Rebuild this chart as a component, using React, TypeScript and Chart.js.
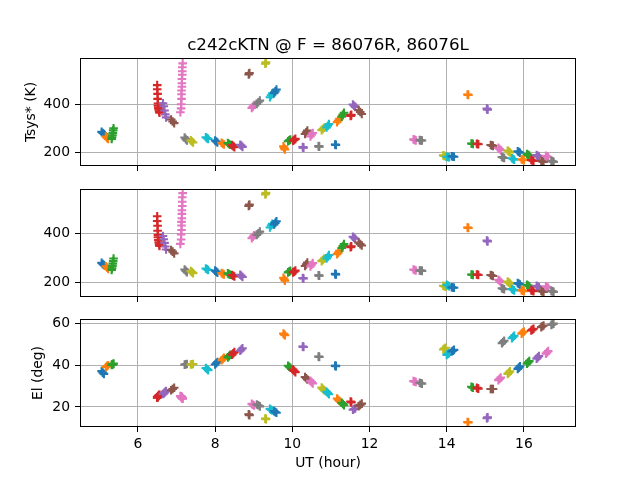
import { useEffect, useRef } from 'react';
import { Chart, registerables, ChartConfiguration, Plugin } from 'chart.js';

Chart.register(...registerables);
Chart.defaults.font.family = "'DejaVu Sans', sans-serif";
Chart.defaults.color = '#000';

const titleText = 'c242cKTN @ F = 86076R, 86076L';
const palette = ['#1f77b4', '#ff7f0e', '#2ca02c', '#d62728', '#9467bd', '#8c564b', '#e377c2', '#7f7f7f', '#bcbd22', '#17becf'];
const utTicks = [6, 8, 10, 12, 14, 16];
const tsysTicks = [200, 400];
const elTicks = [20, 40, 60];

// one row per scan, in UT order
const scanTimes: number[][] = [
  [5.06, 5.09, 5.12], [5.17, 5.2, 5.23], [5.32, 5.33, 5.34, 5.35, 5.36, 5.37],
  [6.5, 6.5, 6.51, 6.51, 6.52, 6.52, 6.53, 6.54, 6.55, 6.56],
  [6.65, 6.67, 6.69, 6.71, 6.73], [6.86, 6.9, 6.94],
  [7.1, 7.12, 7.12, 7.13, 7.13, 7.13, 7.14, 7.14, 7.14, 7.15, 7.15, 7.15, 7.16],
  [7.21, 7.24, 7.27], [7.37, 7.4, 7.43], [7.76, 7.79, 7.82], [8.0, 8.03, 8.06],
  [8.17, 8.2, 8.23], [8.33, 8.36, 8.39], [8.44, 8.47, 8.5], [8.65, 8.68, 8.71],
  [8.87, 8.88, 8.89], [8.95, 8.98, 9.01], [9.08, 9.12, 9.16], [9.3, 9.31, 9.32],
  [9.42, 9.45, 9.48], [9.53, 9.56, 9.59], [9.77, 9.79, 9.81], [9.89, 9.92, 9.95],
  [10.02, 10.05, 10.08], [10.27, 10.28, 10.29], [10.33, 10.36, 10.39], [10.47, 10.5, 10.53],
  [10.68, 10.69, 10.7], [10.76, 10.79, 10.82], [10.89, 10.92, 10.95], [11.11, 11.12, 11.13],
  [11.16, 11.19, 11.22], [11.28, 11.31, 11.34], [11.51, 11.52, 11.53], [11.57, 11.6, 11.63],
  [11.72, 11.76, 11.8], [13.14, 13.17, 13.2], [13.3, 13.33, 13.36], [13.91, 13.94, 13.97],
  [14.0, 14.03, 14.06], [14.13, 14.16, 14.19], [14.54, 14.55, 14.56], [14.64, 14.66, 14.68],
  [14.78, 14.8, 14.82], [15.04, 15.05, 15.06], [15.14, 15.17, 15.2], [15.34, 15.37, 15.4],
  [15.43, 15.46, 15.49], [15.58, 15.61, 15.64], [15.69, 15.72, 15.75], [15.84, 15.87, 15.9],
  [15.94, 15.97, 16.0], [16.08, 16.11, 16.14], [16.19, 16.22, 16.25], [16.33, 16.36, 16.39],
  [16.45, 16.48, 16.51], [16.57, 16.6, 16.63], [16.71, 16.74, 16.77],
];

const tsysR: number[][] = [
  [285, 280, 276], [266, 260, 256], [256, 263, 271, 280, 291, 300],
  [478, 461, 442, 421, 402, 393, 384, 376, 369, 364],
  [403, 391, 373, 357, 345], [336, 328, 321],
  [366, 382, 399, 421, 440, 456, 471, 486, 503, 521, 535, 552, 568],
  [262, 255, 250], [250, 245, 241], [263, 259, 256], [249, 245, 241],
  [240, 236, 233], [239, 235, 232], [230, 226, 222], [232, 228, 223],
  [522, 525, 528], [384, 390, 396], [400, 407, 414], [566, 569, 572],
  [428, 436, 444], [445, 452, 460], [225, 218, 212], [246, 250, 253],
  [248, 252, 256], [222, 221, 220], [276, 283, 290], [266, 273, 280],
  [226, 225, 224], [292, 297, 302], [303, 310, 317], [233, 232, 231],
  [325, 332, 339], [348, 356, 364], [351, 353, 355], [398, 393, 388],
  [375, 367, 359], [254, 252, 250], [251, 250, 249], [188, 186, 184],
  [182, 181, 180], [184, 183, 182], [439, 438, 437], [237, 236, 235],
  [236, 235, 234], [381, 379, 377], [231, 229, 227], [219, 214, 209],
  [181, 179, 177], [208, 204, 200], [176, 173, 170], [205, 202, 199],
  [172, 170, 168], [193, 190, 187], [169, 167, 165], [189, 186, 183],
  [165, 163, 161], [186, 183, 180], [165, 163, 161],
];

const tsysL: number[][] = [
  [279, 274, 270], [265, 260, 254], [250, 257, 266, 276, 286, 297],
  [470, 451, 431, 411, 394, 384, 373, 363, 355, 348],
  [389, 376, 361, 346, 334], [332, 325, 318],
  [357, 375, 396, 414, 432, 447, 462, 480, 495, 512, 530, 548, 565],
  [252, 246, 241], [245, 241, 237], [256, 253, 250], [247, 243, 239],
  [237, 234, 231], [236, 233, 230], [229, 226, 223], [230, 226, 221],
  [512, 515, 518], [380, 386, 392], [394, 400, 407], [560, 563, 566],
  [424, 432, 439], [437, 443, 450], [218, 212, 206], [240, 243, 246],
  [240, 243, 247], [217, 216, 215], [266, 273, 280], [264, 271, 278],
  [228, 227, 226], [286, 291, 296], [297, 304, 311], [234, 233, 232],
  [315, 321, 328], [340, 348, 356], [343, 345, 347], [386, 382, 378],
  [362, 356, 350], [252, 250, 248], [248, 247, 246], [185, 183, 181],
  [189, 186, 183], [179, 178, 177], [424, 423, 422], [231, 230, 229],
  [231, 230, 229], [371, 369, 367], [229, 227, 225], [210, 205, 200],
  [175, 173, 171], [202, 198, 194], [172, 169, 166], [196, 193, 190],
  [167, 165, 163], [189, 186, 183], [167, 165, 163], [185, 182, 179],
  [164, 162, 160], [183, 180, 177], [164, 162, 160],
];

const elevation: number[][] = [
  [37.2, 36.5, 35.9], [39.2, 39.6, 40.0], [40.2, 40.3, 40.4, 40.5, 40.6, 40.8],
  [24.5, 24.6, 24.7, 24.8, 25.0, 25.1, 25.3, 25.5, 25.7, 25.9],
  [26.2, 26.5, 26.9, 27.3, 27.7], [28.0, 28.6, 29.2],
  [25.2, 25.1, 25.0, 24.9, 24.8, 24.7, 24.6, 24.5, 24.4, 24.3, 24.2, 24.1, 24.0],
  [40.3, 40.5, 40.6], [40.4, 40.5, 40.6], [38.7, 38.2, 37.7], [40.4, 41.0, 41.6],
  [42.4, 43.0, 43.6], [43.8, 44.4, 45.0], [45.1, 45.7, 46.3], [47.0, 47.6, 48.2],
  [16.5, 16.3, 16.1], [21.5, 21.1, 20.7], [21.2, 20.8, 20.3], [14.4, 14.3, 14.2],
  [19.1, 18.7, 18.3], [18.0, 17.6, 17.2], [55.2, 54.8, 54.4], [39.8, 39.3, 38.8],
  [37.9, 37.3, 36.7], [49.0, 48.9, 48.8], [34.4, 33.8, 33.2], [32.5, 31.9, 31.3],
  [44.2, 44.1, 44.0], [29.3, 28.7, 28.1], [27.3, 26.7, 26.1], [39.8, 39.7, 39.6],
  [24.1, 23.5, 22.9], [22.0, 21.4, 20.8], [22.6, 22.4, 22.2], [18.7, 19.0, 19.3],
  [20.4, 21.0, 21.6], [32.4, 32.2, 32.0], [31.6, 31.4, 31.2], [47.6, 48.0, 48.4],
  [45.0, 45.4, 45.8], [46.6, 47.0, 47.4], [12.8, 12.7, 12.6], [29.7, 29.5, 29.3],
  [29.2, 29.0, 28.8], [14.6, 14.8, 15.0], [28.6, 28.6, 28.6], [32.9, 33.5, 34.1],
  [50.6, 51.2, 51.8], [35.9, 36.5, 37.1], [53.0, 53.6, 54.2], [38.3, 38.9, 39.5],
  [55.2, 55.7, 56.2], [40.8, 41.4, 42.0], [56.7, 57.1, 57.5], [43.2, 43.8, 44.4],
  [58.3, 58.7, 59.1], [45.6, 46.2, 46.8], [59.4, 59.7, 60.0],
];

const W = 640;
const H = 480;
const AREA_LEFT = 80;
const AREA_RIGHT = 576;

// black box round each axes
const framePlugin: Plugin = {
  id: 'frame',
  afterDraw(chart) {
    const { ctx, chartArea } = chart;
    const l = Math.round(chartArea.left) + 0.5;
    const t = Math.round(chartArea.top) + 0.5;
    const r = Math.round(chartArea.right) - 0.5;
    const b = Math.round(chartArea.bottom) - 0.5;
    ctx.save();
    ctx.strokeStyle = '#000';
    ctx.lineWidth = 1;
    ctx.strokeRect(l, t, r - l, b - t);
    ctx.restore();
  },
};

// matplotlib-style title, centred over the axes rather than the canvas
const axesTitlePlugin: Plugin = {
  id: 'axesTitle',
  afterDraw(chart) {
    const { ctx, chartArea } = chart;
    ctx.save();
    ctx.font = "16.7px 'DejaVu Sans', sans-serif";
    ctx.fillStyle = '#000';
    ctx.textAlign = 'center';
    ctx.textBaseline = 'alphabetic';
    ctx.fillText(titleText, (chartArea.left + chartArea.right) / 2, chartArea.top - 8.3);
    ctx.restore();
  },
};

interface PanelProps {
  values: number[][];
  top: number;
  bottom: number;
  yMin: number;
  yMax: number;
  yTicks: number[];
  yTitle?: string;
  yTitlePad?: number;
  withTitle?: boolean;
  withXLabels?: boolean;
}

function Panel({ values, top, bottom, yMin, yMax, yTicks, yTitle, yTitlePad = 0, withTitle, withXLabels }: PanelProps) {
  const chartRef = useRef<HTMLCanvasElement>(null);
  const chartInstance = useRef<Chart | null>(null);

  useEffect(() => {
    if (!chartRef.current) return;
    if (chartInstance.current) chartInstance.current.destroy();

    const datasets = scanTimes.map((times, i) => ({
      data: times.map((t, j) => ({ x: t, y: values[i][j] })),
      borderColor: palette[i % 10],
      backgroundColor: palette[i % 10],
      pointStyle: 'cross' as const,
      pointRadius: 4.3,
      pointBorderWidth: 2.1,
      showLine: false,
      order: -i,
    }));

    const xLabelSpace = withXLabels ? 8 : 0;
    const xAxisHeight = withXLabels ? H - xLabelSpace - bottom : H - bottom;

    const config: ChartConfiguration<'scatter'> = {
      type: 'scatter',
      data: { datasets },
      options: {
        responsive: false,
        animation: false,
        events: [],
        layout: {
          padding: { left: 0, right: W - AREA_RIGHT, top, bottom: xLabelSpace },
        },
        plugins: {
          legend: { display: false },
          tooltip: { enabled: false },
          title: { display: false },
        },
        scales: {
          x: {
            type: 'linear',
            min: 4.5,
            max: 17.35,
            afterBuildTicks: (scale) => {
              scale.ticks = utTicks.map((v) => ({ value: v }));
            },
            afterFit: (scale) => {
              scale.height = xAxisHeight;
            },
            grid: { color: '#b0b0b0', lineWidth: 1, tickColor: '#000', tickLength: 5, tickWidth: 1 },
            border: { display: false },
            ticks: {
              font: { size: 13.9 },
              padding: 4,
              maxRotation: 0,
              autoSkip: false,
              callback: (v) => (withXLabels ? String(v) : ''),
            },
            title: {
              display: !!withXLabels,
              text: 'UT (hour)',
              font: { size: 13.9 },
              padding: { top: 0, bottom: 0 },
            },
          },
          y: {
            type: 'linear',
            min: yMin,
            max: yMax,
            afterBuildTicks: (scale) => {
              scale.ticks = yTicks.map((v) => ({ value: v }));
            },
            afterFit: (scale) => {
              scale.width = AREA_LEFT;
            },
            grid: { color: '#b0b0b0', lineWidth: 1, tickColor: '#000', tickLength: 5, tickWidth: 1 },
            border: { display: false },
            ticks: { font: { size: 13.9 }, padding: 5, autoSkip: false },
            title: {
              display: !!yTitle,
              text: yTitle ?? '',
              font: { size: 13.9 },
              padding: { top: yTitlePad, bottom: 0 },
            },
          },
        },
      },
      plugins: withTitle ? [framePlugin, axesTitlePlugin] : [framePlugin],
    };

    chartInstance.current = new Chart(chartRef.current, config);

    return () => {
      if (chartInstance.current) {
        chartInstance.current.destroy();
        chartInstance.current = null;
      }
    };
  }, [values, top, bottom, yMin, yMax, yTicks, yTitle, yTitlePad, withTitle, withXLabels]);

  return (
    <canvas
      ref={chartRef}
      width={W}
      height={H}
      style={{ position: 'absolute', left: 0, top: 0, width: W, height: H }}
    />
  );
}

export default function App() {
  return (
    <div style={{ position: 'fixed', left: 0, top: 0, width: W, height: H, background: '#fff' }}>
      <Panel values={tsysR} top={58} bottom={166} yMin={144} yMax={590} yTicks={tsysTicks}
        yTitle="Tsys* (K)" yTitlePad={22.7} withTitle />
      <Panel values={tsysL} top={189} bottom={297} yMin={139} yMax={582} yTicks={tsysTicks} />
      <Panel values={elevation} top={319} bottom={427} yMin={10.4} yMax={62.2} yTicks={elTicks}
        yTitle="El (deg)" yTitlePad={29.7} withXLabels />
    </div>
  );
}
